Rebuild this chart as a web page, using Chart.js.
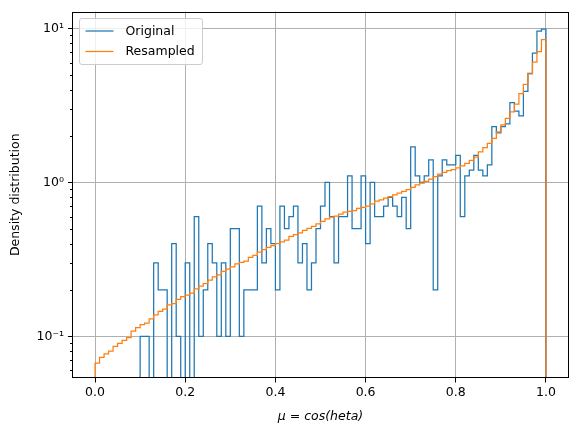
<!DOCTYPE html>
<html lang="en">
<head>
<meta charset="UTF-8">
<title>Original vs Resampled</title>
<script src="https://cdn.jsdelivr.net/npm/chart.js@4.4.1/dist/chart.umd.min.js"></script>
</head>
<body style="margin:0; background:#fff;">
<div style="width:578px; height:436px;">
  <canvas id="chart" width="578" height="436"></canvas>
</div>
<script>
// 100 bins on [0, 1]
const binEdges = Array.from({length: 101}, (_, i) => i / 100);

// density per bin (0 = empty bin)
const original = [
  0, 0, 0, 0, 0, 0, 0, 0, 0, 0,
  0.1, 0.1, 0, 0.3, 0.2, 0.2, 0, 0.4, 0.1, 0,
  0.3, 0, 0.6, 0.1, 0.2, 0.4, 0.3, 0.1, 0.3, 0.1,
  0.5, 0.5, 0.1, 0.2, 0.2, 0.2, 0.7, 0.3, 0.5, 0.4,
  0.2, 0.7, 0.5, 0.6, 0.7, 0.3, 0.4, 0.2, 0.3, 0.5,
  0.7, 1.0, 0.6, 0.3, 0.6, 0.6, 1.1, 0.5, 0.5, 1.1,
  0.4, 1.0, 0.6, 0.6, 0.7, 0.8, 0.7, 0.6, 0.8, 0.5,
  1.7, 1.1, 1.0, 1.1, 1.4, 0.2, 1.1, 1.4, 1.3, 1.3,
  1.5, 0.6, 1.1, 1.2, 1.5, 1.2, 1.1, 1.3, 2.3, 2.1,
  2.3, 2.4, 3.3, 2.9, 2.7, 3.9, 5.1, 6.9, 9.6, 9.9
];

const resampled = [
  0.067, 0.073, 0.077, 0.080, 0.086, 0.090, 0.094, 0.098, 0.108, 0.114,
  0.119, 0.122, 0.130, 0.138, 0.145, 0.150, 0.160, 0.163, 0.174, 0.181,
  0.185, 0.191, 0.203, 0.212, 0.220, 0.232, 0.243, 0.251, 0.264, 0.273,
  0.283, 0.295, 0.302, 0.308, 0.326, 0.336, 0.352, 0.366, 0.378, 0.388,
  0.400, 0.410, 0.422, 0.445, 0.458, 0.470, 0.488, 0.502, 0.518, 0.538,
  0.558, 0.580, 0.594, 0.603, 0.622, 0.640, 0.648, 0.656, 0.678, 0.688,
  0.702, 0.725, 0.755, 0.770, 0.790, 0.808, 0.830, 0.850, 0.873, 0.897,
  0.928, 0.962, 0.990, 1.015, 1.05, 1.09, 1.13, 1.16, 1.19, 1.21,
  1.24, 1.28, 1.33, 1.39, 1.46, 1.58, 1.68, 1.79, 1.93, 2.13,
  2.36, 2.60, 2.87, 3.22, 3.77, 4.33, 5.07, 6.04, 7.07, 8.45
];

const xTicks = [0, 0.2, 0.4, 0.6, 0.8, 1.0];
const yMajor = [0.1, 1, 10];
const yMajorLabels = ['10⁻¹', '10⁰', '10¹'];
const yMinor = [0.06, 0.07, 0.08, 0.09, 0.2, 0.3, 0.4, 0.5, 0.6, 0.7, 0.8, 0.9,
                2, 3, 4, 5, 6, 7, 8, 9];

const FONT = 'DejaVu Sans';

// outline of a step histogram; empty bins drop below the axis
function stepPoints(values) {
  const floor = 1e-3;
  const pts = [{x: binEdges[0], y: floor}];
  values.forEach((v, i) => pts.push({x: binEdges[i], y: v > 0 ? v : floor}));
  const last = values[values.length - 1];
  pts.push({x: binEdges[values.length], y: last > 0 ? last : floor});
  pts.push({x: binEdges[values.length], y: floor});
  return pts;
}

// spines, minor ticks, legend box
const framePlugin = {
  id: 'frame',
  afterDatasetsDraw(chart) {
    const {ctx, chartArea: a} = chart;
    const ys = chart.scales.y;
    ctx.save();
    ctx.strokeStyle = '#000';
    ctx.lineWidth = 1;
    yMinor.forEach(v => {
      const y = Math.round(ys.getPixelForValue(v)) + 0.5;
      if (y < a.top || y > a.bottom) return;
      ctx.beginPath();
      ctx.moveTo(a.left - 2.5, y);
      ctx.lineTo(a.left, y);
      ctx.stroke();
    });
    const l = Math.round(a.left) - 0.5, t = Math.round(a.top) + 0.5;
    const r = Math.round(a.right) - 0.5, b = Math.round(a.bottom) - 0.5;
    ctx.strokeRect(l, t, r - l, b - t);
    ctx.restore();
  },
  afterDraw(chart) {
    const {ctx, chartArea: a} = chart;
    const x0 = a.left + 7, y0 = a.top + 7, w = 123, h = 46;
    ctx.save();
    ctx.beginPath();
    ctx.roundRect(x0, y0, w, h, 2.5);
    ctx.fillStyle = 'rgba(255,255,255,0.8)';
    ctx.fill();
    ctx.strokeStyle = '#cccccc';
    ctx.lineWidth = 1;
    ctx.stroke();
    ctx.font = '12.5px ' + FONT;
    ctx.textBaseline = 'middle';
    chart.data.datasets.forEach((ds, i) => {
      const y = y0 + 12.5 + i * 20.5;
      ctx.beginPath();
      ctx.strokeStyle = ds.borderColor;
      ctx.lineWidth = ds.borderWidth;
      ctx.moveTo(x0 + 6, y);
      ctx.lineTo(x0 + 34, y);
      ctx.stroke();
      ctx.fillStyle = '#000';
      ctx.fillText(ds.label, x0 + 46, y + 0.5);
    });
    ctx.restore();
  }
};

new Chart(document.getElementById('chart'), {
  type: 'line',
  data: {
    datasets: [
      {
        label: 'Original',
        data: stepPoints(original),
        borderColor: '#1f77b4',
        borderWidth: 1.25,
        stepped: true,
        pointRadius: 0,
        order: 1
      },
      {
        label: 'Resampled',
        data: stepPoints(resampled),
        borderColor: '#ff7f0e',
        borderWidth: 1.25,
        stepped: true,
        pointRadius: 0,
        order: 0
      }
    ]
  },
  options: {
    responsive: false,
    animation: false,
    devicePixelRatio: 1,
    layout: {padding: {top: 9, right: 9.5, left: 0, bottom: 0}},
    plugins: {legend: {display: false}, tooltip: {enabled: false}},
    scales: {
      x: {
        type: 'linear',
        min: -0.05,
        max: 1.05,
        afterBuildTicks: s => { s.ticks = xTicks.map(v => ({value: v})); },
        afterFit: s => { s.height = 58; },
        border: {display: false},
        grid: {color: '#b0b0b0', lineWidth: 1, tickColor: '#000', tickLength: 4.5},
        ticks: {
          color: '#000',
          padding: 3,
          maxRotation: 0,
          font: {family: FONT, size: 12.5},
          callback: v => v.toFixed(1)
        },
        title: {
          display: true,
          text: 'μ = cos(heta)',
          color: '#000',
          padding: {top: 0, bottom: 12},
          font: {family: FONT, size: 12.5, style: 'italic'}
        }
      },
      y: {
        type: 'logarithmic',
        min: 0.0536,
        max: 12.88,
        afterBuildTicks: s => { s.ticks = yMajor.map(v => ({value: v})); },
        afterFit: s => { s.width = 72.5; },
        border: {display: false},
        grid: {color: '#b0b0b0', lineWidth: 1, tickColor: '#000', tickLength: 4.5},
        ticks: {
          color: '#000',
          padding: 4,
          font: {family: FONT, size: 12.5},
          callback: v => {
            const i = yMajor.indexOf(v);
            return i >= 0 ? yMajorLabels[i] : '';
          }
        },
        title: {
          display: true,
          text: 'Density distribution',
          color: '#000',
          padding: {top: 8, bottom: 0},
          font: {family: FONT, size: 12.5}
        }
      }
    }
  },
  plugins: [framePlugin]
});
</script>
</body>
</html>
